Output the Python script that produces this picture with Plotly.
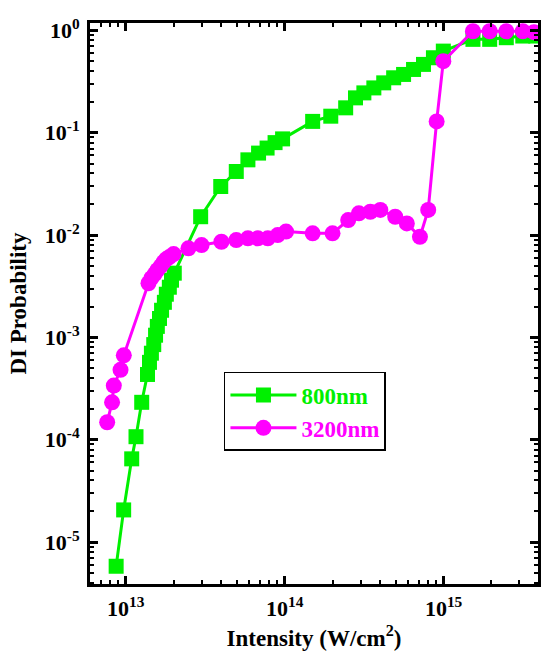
import plotly.graph_objects as go

# 800nm series (squares)
green_x = [8.7e12, 9.7e12, 1.09e13, 1.16e13, 1.26e13, 1.37e13, 1.41e13, 1.45e13, 1.50e13, 1.54e13,
           1.58e13, 1.63e13, 1.68e13, 1.75e13, 1.80e13, 1.88e13, 1.94e13, 2.02e13, 2.96e13, 3.96e13,
           4.96e13, 5.87e13, 6.85e13, 7.75e13, 8.7e13, 9.7e13, 1.5e14, 1.95e14, 2.42e14, 2.79e14,
           3.15e14, 3.64e14, 4.2e14, 4.85e14, 5.6e14, 6.47e14, 7.47e14, 8.63e14, 9.96e14, 1.53e15,
           1.95e15, 2.48e15, 3.15e15, 3.8e15]
green_y = [5.8e-6, 2.06e-5, 6.5e-5, 1.07e-4, 2.32e-4, 4.34e-4, 5.7e-4, 7.0e-4, 8.5e-4, 1.05e-3,
           1.28e-3, 1.53e-3, 1.84e-3, 2.2e-3, 2.64e-3, 3.09e-3, 3.62e-3, 4.24e-3, 1.51e-2, 2.98e-2,
           4.18e-2, 5.43e-2, 6.32e-2, 7.08e-2, 8.0e-2, 8.7e-2, 0.129, 0.145, 0.175, 0.219,
           0.245, 0.274, 0.307, 0.344, 0.371, 0.415, 0.465, 0.54, 0.627, 0.817,
           0.817, 0.848, 0.88, 0.88]

# 3200nm series (circles)
mag_x = [7.64e12, 8.2e12, 8.41e12, 9.27e12, 9.72e12, 1.39e13, 1.45e13, 1.52e13, 1.58e13, 1.66e13,
         1.73e13, 1.80e13, 1.88e13, 2.0e13, 2.48e13, 3.0e13, 4.0e13, 4.96e13, 5.87e13, 6.78e13,
         7.83e13, 9.04e13, 1.02e14, 1.5e14, 2.0e14, 2.51e14, 2.93e14, 3.46e14, 4.0e14, 4.96e14,
         5.87e14, 7.1e14, 8.0e14, 9.04e14, 9.96e14, 1.53e15, 1.95e15, 2.48e15, 3.15e15, 3.7e15]
mag_y = [1.48e-4, 2.32e-4, 3.38e-4, 4.82e-4, 6.67e-4, 3.38e-3, 3.79e-3, 4.15e-3, 4.54e-3, 4.97e-3,
         5.44e-3, 5.82e-3, 6.09e-3, 6.51e-3, 7.41e-3, 7.98e-3, 8.6e-3, 8.93e-3, 9.28e-3, 9.28e-3,
         9.28e-3, 1.0e-2, 1.08e-2, 1.04e-2, 1.04e-2, 1.4e-2, 1.63e-2, 1.69e-2, 1.76e-2, 1.51e-2,
         1.3e-2, 9.6e-3, 1.76e-2, 0.129, 0.5, 0.98, 0.98, 0.98, 0.98, 0.96]

# tick labels
x_exps = [13, 14, 15]
y_exps = [-5, -4, -3, -2, -1, 0]

GREEN = "#00f000"
MAGENTA = "#ff00ff"
FONT = "Liberation Serif"


def minor_vals(exps):
    lo, hi = min(exps) - 1, max(exps) + 1
    return [m * 10.0 ** e for e in range(lo, hi) for m in range(2, 10)]


def tick_text(e):
    return f"10<sup>{e}</sup>"


fig = go.Figure()
fig.add_trace(go.Scatter(
    x=green_x, y=green_y, mode="lines+markers",
    name=f"<span style='color:{GREEN}'>800nm</span>",
    line=dict(color=GREEN, width=3),
    marker=dict(symbol="square", size=15, color=GREEN, line=dict(width=0)),
))
fig.add_trace(go.Scatter(
    x=mag_x, y=mag_y, mode="lines+markers",
    name=f"<span style='color:{MAGENTA}'>3200nm</span>",
    line=dict(color=MAGENTA, width=3),
    marker=dict(symbol="circle", size=16, color=MAGENTA, line=dict(width=0)),
))

axis_common = dict(
    type="log",
    showline=True, linecolor="black", linewidth=3, mirror="ticks",
    ticks="inside", ticklen=8, tickwidth=2.5, tickcolor="black",
    showgrid=False, zeroline=False,
    tickfont=dict(family=FONT, size=22, color="black", weight="bold"),
)

fig.update_xaxes(
    **axis_common,
    tickmode="array",
    tickvals=[10.0 ** e for e in x_exps],
    ticktext=[tick_text(e) for e in x_exps],
    minor=dict(tickmode="array", tickvals=minor_vals(x_exps), ticks="inside", ticklen=4,
               tickwidth=2, tickcolor="black", showgrid=False),
    ticklabelstandoff=3,
    range=[12.775, 15.594],
    title=dict(text="Intensity (W/cm<sup>2</sup>)", font=dict(family=FONT, size=23, color="black", weight="bold"),
               standoff=10),
)
fig.update_yaxes(
    **axis_common,
    tickmode="array",
    tickvals=[10.0 ** e for e in y_exps],
    ticktext=[tick_text(e) for e in y_exps],
    minor=dict(tickmode="array", tickvals=minor_vals(y_exps), ticks="inside", ticklen=4,
               tickwidth=2, tickcolor="black", showgrid=False),
    ticklabelstandoff=3,
    range=[-5.41, 0.072],
    title=dict(text="DI Probability", font=dict(family=FONT, size=23, color="black", weight="bold"),
               standoff=12),
)

fig.update_layout(
    width=542, height=661,
    margin=dict(l=90, r=1, t=23, b=77),
    paper_bgcolor="white", plot_bgcolor="white",
    showlegend=True,
    legend=dict(
        x=0.299, y=0.378, xanchor="left", yanchor="top",
        bgcolor="white", bordercolor="black", borderwidth=1.5,
        font=dict(family=FONT, size=23, weight="bold"),
        itemwidth=66, tracegroupgap=0,
    ),
)

fig.write_html("out.html")
